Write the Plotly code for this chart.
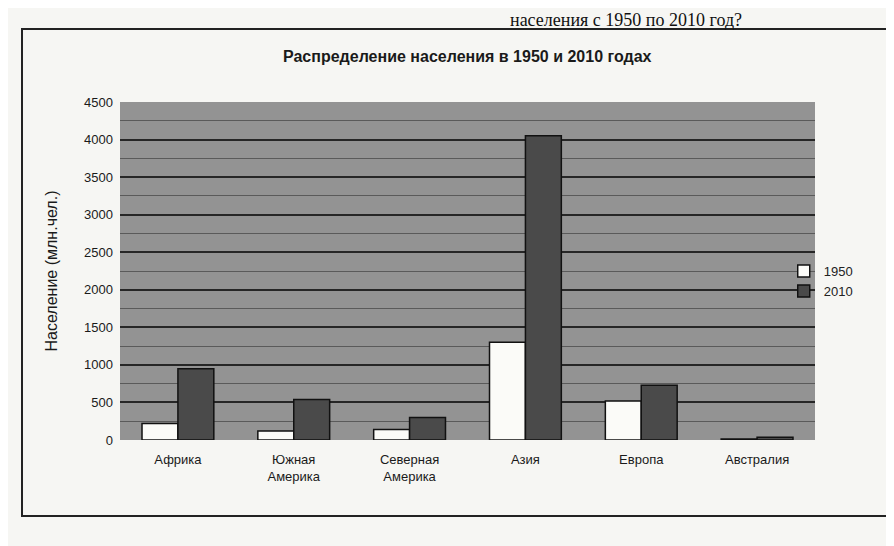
import plotly.graph_objects as go

categories = ["Африка", "Южная<br>Америка", "Северная<br>Америка", "Азия", "Европа", "Австралия"]
pop_1950 = [220, 120, 140, 1300, 520, 13]
pop_2010 = [950, 540, 300, 4050, 730, 36]
y_ticks = [0, 500, 1000, 1500, 2000, 2500, 3000, 3500, 4000, 4500]

title_text = "Распределение населения в 1950 и 2010 годах"
y_title = "Население (млн.чел.)"
question_text = "населения с 1950 по 2010 год?"

fig = go.Figure()
fig.add_trace(go.Bar(
    x=categories, y=pop_1950, name="1950",
    marker=dict(color="#fbfbf8", line=dict(color="#111111", width=1.5)),
))
fig.add_trace(go.Bar(
    x=categories, y=pop_2010, name="2010",
    marker=dict(color="#4a4a4a", line=dict(color="#111111", width=1.5)),
))

font_main = "Liberation Sans, Arial, sans-serif"

fig.update_layout(
    width=886, height=538,
    margin=dict(l=112, r=79, t=94, b=106),
    paper_bgcolor="#f6f6f3",
    plot_bgcolor="#939393",
    barmode="group",
    bargap=0.38,
    bargroupgap=0.0,
    showlegend=True,
    legend=dict(
        x=0.955, y=0.47, xanchor="left", yanchor="middle",
        bgcolor="rgba(0,0,0,0)",
        font=dict(family=font_main, size=13, color="#222"),
        itemwidth=30, tracegroupgap=2,
    ),
    font=dict(family=font_main, color="#1a1a1a"),
    annotations=[
        dict(text="<b>" + title_text + "</b>", x=0.50, y=1.135, xref="paper", yref="paper",
             xanchor="center", yanchor="middle", showarrow=False,
             font=dict(family=font_main, size=16, color="#1a1a1a")),
        dict(text=question_text, x=0.898, y=1.278, xref="paper", yref="paper",
             xanchor="right", yanchor="top", showarrow=False,
             font=dict(family="Liberation Serif, Times New Roman, serif", size=18, color="#111")),
    ],
    shapes=[
        dict(type="rect", xref="paper", yref="paper",
             x0=-0.141, x1=1.14, y0=-0.225, y1=1.216,
             line=dict(color="#222", width=2), fillcolor="rgba(0,0,0,0)", layer="below"),
    ],
)

fig.update_xaxes(
    showline=False, ticks="", showgrid=False,
    ticklabelstandoff=10,
    tickfont=dict(family=font_main, size=13, color="#1a1a1a"),
)
fig.update_yaxes(
    range=[0, 4500], tickvals=y_ticks,
    showgrid=True, gridcolor="#262626", gridwidth=1.5,
    minor=dict(dtick=250, showgrid=True, gridcolor="#5a5a5a", gridwidth=1),
    zeroline=False, showline=False, ticks="",
    ticklabelstandoff=6,
    tickfont=dict(family=font_main, size=13, color="#1a1a1a"),
    title=dict(text=y_title, font=dict(family=font_main, size=16, color="#1a1a1a"), standoff=22),
)

fig.write_html("out.html")
